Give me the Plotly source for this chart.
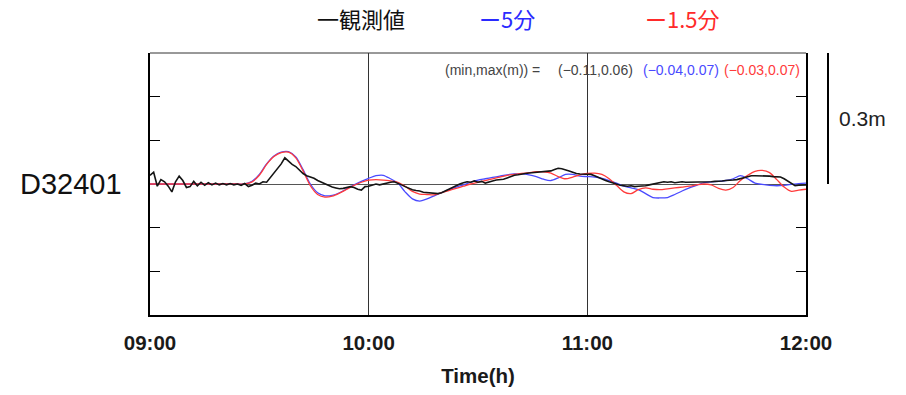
import plotly.graph_objects as go

# ---- data: water level anomaly at station D32401 (m), 09:00-12:00 ----
tick_minutes = [0, 60, 120, 180]
tick_labels = ["09:00", "10:00", "11:00", "12:00"]

# forecast series, one value every 2 minutes from 09:00
fc_minutes = list(range(0, 181, 2))
fc_5min = [0.0] * 14 + [
    0.006, 0.022, 0.046, 0.064, 0.073, 0.074, 0.062, 0.033, 0.0, -0.02,
    -0.027, -0.026, -0.02, -0.011, -0.002, 0.006, 0.013, 0.019, 0.02, 0.012,
    0.002, -0.018, -0.034, -0.039, -0.034, -0.027, -0.02, -0.013, -0.007, -0.002,
    0.004, 0.009, 0.012, 0.015, 0.018, 0.021, 0.023, 0.023, 0.021, 0.017,
    0.011, 0.008, 0.014, 0.022, 0.022, 0.018, 0.017, 0.016, 0.013, 0.008,
    0.002, -0.005, -0.009, -0.013, -0.022, -0.031, -0.032, -0.031, -0.024, -0.016,
    -0.009, -0.003, 0.003, 0.005, 0.006, 0.008, 0.012, 0.019, 0.012, 0.002,
    -0.001, -0.003, -0.004, -0.003, -0.001, 0.001, 0.002,
]
fc_1_5min = [0.0] * 14 + [
    0.005, 0.02, 0.045, 0.063, 0.072, 0.073, 0.06, 0.03, -0.004, -0.024,
    -0.03, -0.028, -0.021, -0.012, -0.003, 0.004, 0.009, 0.01, 0.009, 0.007,
    0.004, -0.005, -0.017, -0.023, -0.024, -0.025, -0.02, -0.015, -0.01, -0.005,
    0.0, 0.004, 0.008, 0.012, 0.016, 0.02, 0.022, 0.024, 0.026, 0.028,
    0.028, 0.025, 0.017, 0.012, 0.016, 0.021, 0.024, 0.025, 0.022, 0.012,
    -0.003, -0.018, -0.022, -0.013, -0.009, -0.012, -0.013, -0.011, -0.009, -0.007,
    -0.005, -0.002, 0.0, -0.002, -0.01, -0.014, -0.008, 0.008, 0.02, 0.029,
    0.031, 0.026, 0.01, -0.007, -0.017, -0.014, -0.012,
]

# observed series, one value per minute from 09:00
obs_minutes = list(range(0, 181))
obs_values = [
    0.02, 0.027, -0.005, 0.01, 0.005, -0.005, -0.018, 0.005, 0.018, 0.008,
    -0.008, -0.006, 0.006, -0.004, 0.004, -0.003, 0.003, -0.002, 0.002, -0.002,
    0.001, -0.002, 0.001, -0.002, 0.0, -0.003, 0.001, -0.006, -0.003, 0.002,
    0.0, 0.005, 0.004, 0.015, 0.026, 0.036, 0.046, 0.06, 0.052, 0.045,
    0.04, 0.032, 0.024, 0.019, 0.016, 0.013, 0.008, 0.004, 0.0, -0.004,
    -0.007, -0.009, -0.011, -0.01, -0.008, -0.006, -0.008, -0.012, -0.014, -0.006,
    -0.005, -0.002, 0.0, -0.002, 0.0, 0.003, 0.004, 0.005, 0.002, -0.002,
    -0.006, -0.01, -0.013, -0.015, -0.016, -0.019, -0.02, -0.021, -0.022, -0.022,
    -0.02, -0.016, -0.012, -0.007, -0.003, 0.0, 0.003, 0.005, 0.004, 0.007,
    0.004, 0.006, 0.002, 0.005, 0.007, 0.009, 0.01, 0.011, 0.014, 0.017,
    0.02, 0.021, 0.023, 0.024, 0.025, 0.026, 0.027, 0.028, 0.028, 0.029,
    0.03, 0.033, 0.036, 0.035, 0.033, 0.03, 0.027, 0.024, 0.023, 0.023,
    0.022, 0.022, 0.019, 0.015, 0.011, 0.008, 0.005, 0.002, -0.001, -0.003,
    -0.004, -0.005, -0.004, -0.006, -0.005, -0.005, -0.004, -0.002, 0.0, 0.002,
    0.004, 0.005, 0.004, 0.005, 0.003, 0.004, 0.005, 0.004, 0.004, 0.005,
    0.004, 0.005, 0.005, 0.004, 0.005, 0.006, 0.006, 0.007, 0.008, 0.008,
    0.009, 0.01, 0.012, 0.014, 0.017, 0.019, 0.019, 0.019, 0.018, 0.019,
    0.018, 0.017, 0.017, 0.016, 0.012, 0.006, 0.0, -0.004, -0.003, -0.002,
    -0.002,
]

station = "D32401"
legend_items = ["一観測値", "ー5分", "ー1.5分"]
minmax_head = "(min,max(m)) ="
minmax_obs = "(−0.11,0.06)"
minmax_5 = "(−0.04,0.07)"
minmax_15 = "(−0.03,0.07)"
scale_value = 0.3

BLUE = "#4a4aff"
RED = "#ff3b3b"
LATIN = "Liberation Sans, Arial, sans-serif"
CJK = "Noto Sans CJK JP, sans-serif"

fig = go.Figure()
fig.add_trace(go.Scatter(x=fc_minutes, y=fc_5min, mode="lines",
                         line=dict(color=BLUE, width=1.3, shape="spline", smoothing=0.8)))
fig.add_trace(go.Scatter(x=fc_minutes, y=fc_1_5min, mode="lines",
                         line=dict(color=RED, width=1.3, shape="spline", smoothing=0.8)))
fig.add_trace(go.Scatter(x=obs_minutes, y=obs_values, mode="lines",
                         line=dict(color="#151515", width=1.6)))

# plot area in pixels: x 150..806, y 53..315
L, R, T, B = 150, 100, 53, 80
W, H = 906, 395
pw = W - L - R


def px_to_paper(px):
    return (px - L) / pw


fig.update_layout(
    width=W, height=H,
    margin=dict(l=L, r=R, t=T, b=B),
    paper_bgcolor="white", plot_bgcolor="white",
    showlegend=False,
    font=dict(family=LATIN, color="black"),
    xaxis=dict(
        range=[0, 180], tickvals=tick_minutes, ticktext=tick_labels,
        showgrid=True, gridcolor="#333333", gridwidth=1,
        showline=True, linecolor="black", linewidth=2,
        ticks="", ticklabelstandoff=8,
        tickfont=dict(size=20.5, family=LATIN, color="#1a1a1a", weight="bold"),
        title=dict(text="Time(h)",
                   font=dict(size=20.5, family=LATIN, color="#1a1a1a", weight="bold"),
                   standoff=16),
        zeroline=False,
    ),
    yaxis=dict(
        range=[-0.3, 0.3], tickvals=[-0.2, -0.1, 0.1, 0.2],
        showticklabels=False, ticks="inside", ticklen=10, tickwidth=1.2,
        tickcolor="black",
        showline=True, linecolor="black", linewidth=2, mirror="ticks",
        showgrid=False,
        zeroline=True, zerolinecolor="#555555", zerolinewidth=1,
    ),
)

# thin top border
fig.add_shape(type="line", xref="paper", yref="paper", x0=0, x1=1, y0=1, y1=1,
              line=dict(color="#333333", width=1))

# scale bar on the right
sx = px_to_paper(828)
fig.add_shape(type="line", xref="paper", yref="y", x0=sx, x1=sx, y0=0, y1=scale_value,
              line=dict(color="black", width=2))
fig.add_annotation(xref="paper", yref="y", x=px_to_paper(837), y=scale_value / 2,
                   text=f"{scale_value}m", showarrow=False, xanchor="left",
                   font=dict(size=21, family=LATIN, color="#222"))

# station name
fig.add_annotation(xref="paper", yref="y", x=px_to_paper(124), y=0, text=station,
                   showarrow=False, xanchor="right", yanchor="middle",
                   font=dict(size=29, family=LATIN, color="#111"))

# legend row
for txt, col, cx in zip(legend_items, ["#111", "#2a2aff", "#ff2a2a"], [361, 507, 682]):
    fig.add_annotation(xref="paper", yref="paper", x=px_to_paper(cx), y=1 + (53 - 18) / 262,
                       text=txt, showarrow=False, xanchor="center", yanchor="middle",
                       font=dict(size=22, family=CJK, color=col))

# min/max readout
ty = 1 - (70 - 53) / 262
for txt, col, lx in zip([minmax_head, minmax_obs, minmax_5, minmax_15],
                        ["#444", "#444", BLUE, RED], [443, 556, 641, 722]):
    fig.add_annotation(xref="paper", yref="paper", x=px_to_paper(lx), y=ty, text=txt,
                       showarrow=False, xanchor="left", yanchor="middle",
                       font=dict(size=14, family=LATIN, color=col))

fig.write_html("out.html")
